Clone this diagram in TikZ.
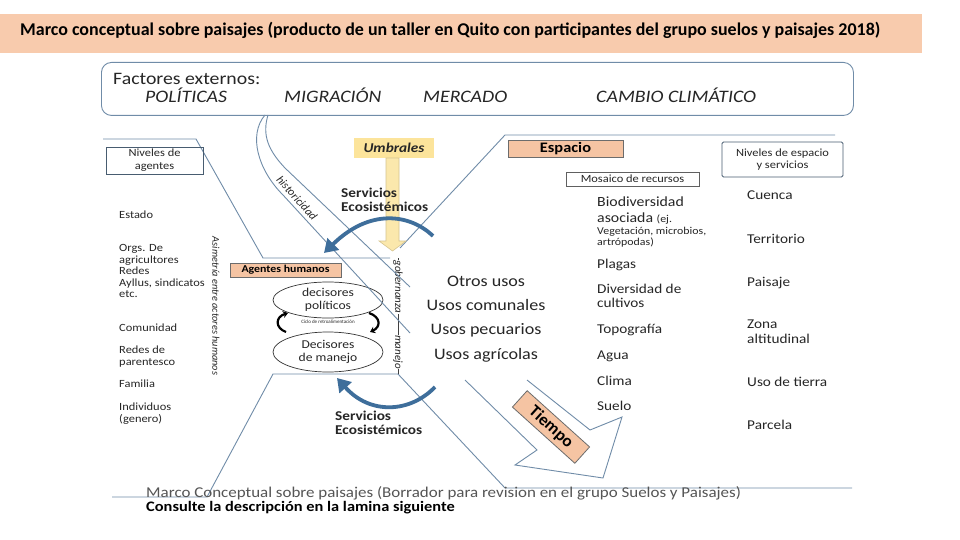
\documentclass[tikz,border=0pt]{standalone}
\usepackage{fontspec}
\setmainfont{Carlito}
\usepackage{graphicx}
\usetikzlibrary{arrows.meta,shapes.geometric}
\definecolor{peach}{RGB}{248,203,173}
\definecolor{peachbox}{RGB}{245,196,163}
\definecolor{linec}{RGB}{112,140,168}
\definecolor{boxc}{RGB}{72,92,112}
\definecolor{arrowblue}{RGB}{62,110,155}
\definecolor{ybox}{RGB}{252,228,155}
\definecolor{yarrow}{RGB}{251,232,172}
\definecolor{yborder}{RGB}{214,196,144}
\definecolor{txt}{RGB}{38,38,38}
\definecolor{gtxt}{RGB}{85,85,85}
\newcommand\fs[1]{\fontsize{#1}{#1}\selectfont}
\newcommand\sx[1]{\scalebox{1.13}[1]{#1}}
\begin{document}
\begin{tikzpicture}[x=1pt,y=-1pt,
  t/.style={inner sep=0pt, xscale=1.13, anchor=base west, text=txt},
  tc/.style={inner sep=0pt, xscale=1.13, anchor=base, text=txt},
  ln/.style={draw=linec, line width=0.9pt},
  bx/.style={draw=boxc, line width=0.9pt, inner sep=0pt, align=center, text=txt},
  pbx/.style={draw=gray!85!black, fill=peachbox, line width=0.8pt, inner sep=0pt, text=black},
  barrow/.style={draw=arrowblue, line width=3.8pt, -{Triangle[width=16pt,length=13pt]}},
  cyc/.style={line width=2.2pt, -{Stealth[length=5pt,width=7pt]}},
]
\useasboundingbox (0,0) rectangle (960,540);
\fill[white] (0,0) rectangle (960,540);

% title band
\node[fill=peach, minimum width=922pt, minimum height=39pt, inner sep=0pt, anchor=north west] (band) at (0,14) {};
\node[anchor=base west, inner sep=0pt, text=black] (title) at (20,36) {\resizebox{860pt}{!}{\fs{15.5}\bfseries Marco conceptual sobre paisajes (producto de un taller en Quito con participantes del grupo suelos y paisajes 2018)}};

% external factors box
\node[draw=linec, line width=0.9pt, rounded corners=10pt, minimum width=752pt, minimum height=53pt, inner sep=0pt, anchor=north west] (ext) at (101,62) {};
\node[t, font=\fs{17.5}] (fe) at (113,85) {Factores externos:};
\node[t, font=\fs{17.5}\itshape] (pol) at (145,103) {POLÍTICAS};
\node[t, font=\fs{17.5}\itshape] (mig) at (284,103) {MIGRACIÓN};
\node[t, font=\fs{17.5}\itshape] (mer) at (423,103) {MERCADO};
\node[t, font=\fs{17.5}\itshape] (cc) at (596,103) {CAMBIO CLIMÁTICO};

% zone outlines
\draw[ln] (103,139) -- (196,139) -- (263,258) -- (390,258);
\draw[ln] (398,374) -- (273,374) -- (207,497) -- (112,497);
\draw[ln] (400,248) -- (505,135) -- (835,135);
\draw[ln] (398,374) -- (505,488) -- (852,488);

% Tiempo hollow arrow
\draw[ln] (465,380) -- (537,450) -- (515,465) -- (603,478) -- (622,417) -- (590,430) -- (527,380);
\node[pbx, rotate=-42, minimum width=84pt, minimum height=22pt, font=\fs{17}\bfseries] (tiempo) at (551,427) {Tiempo};

% left column
\node[bx, minimum width=97pt, minimum height=27pt, font=\fontsize{11}{13}\selectfont] (nag) at (154.5,160.5) {\sx{Niveles de}\\\sx{agentes}};
\node[t, font=\fs{11}] (l1) at (119,218) {Estado};
\node[t, font=\fs{11}] (l2) at (119,251) {Orgs. De};
\node[t, font=\fs{11}] (l3) at (119,263) {agricultores};
\node[t, font=\fs{11}] (l4) at (119,274) {Redes};
\node[t, font=\fs{11}] (l5) at (119,286) {Ayllus, sindicatos};
\node[t, font=\fs{11}] (l6) at (119,297) {etc.};
\node[t, font=\fs{11}] (l7) at (119,331) {Comunidad};
\node[t, font=\fs{11}] (l8) at (119,353) {Redes de};
\node[t, font=\fs{11}] (l9) at (119,365) {parentesco};
\node[t, font=\fs{11}] (l10) at (119,387) {Familia};
\node[t, font=\fs{11}] (l11) at (119,410) {Individuos};
\node[t, font=\fs{11}] (l12) at (119,422) {(genero)};
\node[rotate=-90, inner sep=0pt, font=\fs{10.3}\itshape, text=txt] (asim) at (216,306) {Asimetría entre actores humanos};

% agents
\node[pbx, minimum width=111pt, minimum height=14pt, font=\fs{10.5}\bfseries] (agh) at (285.5,270) {\sx{Agentes humanos}};
\node[ellipse, draw=black!80, line width=0.7pt, minimum width=110pt, minimum height=36pt, inner sep=0pt, align=center, text=txt, font=\fontsize{12}{12.5}\selectfont] (dpol) at (328,300) {\sx{decisores}\\\sx{políticos}};
\node[ellipse, draw=black!80, line width=0.7pt, minimum width=110pt, minimum height=40pt, inner sep=0pt, align=center, text=txt, font=\fontsize{12}{12.5}\selectfont] (dman) at (328,352) {\sx{Decisores}\\\sx{de manejo}};
\node[inner sep=0pt, font=\fs{5}, text=txt] (ciclo) at (328,322) {Ciclo de retroalimentación};
\draw[cyc] (286,332) .. controls (275,328) and (275,317) .. (288,313);
\draw[cyc] (369,313) .. controls (381,317) and (381,327) .. (370,332);

% gobernanza / manejo
\draw[line width=0.6pt, black!75] (398,258) -- (398,374);
\node[rotate=-90, fill=white, inner sep=0.6pt, font=\fs{11}\itshape, text=txt] (gob) at (398,287) {gobernanza};
\node[rotate=-90, fill=white, inner sep=0.6pt, font=\fs{11}\itshape, text=txt] (man) at (398,352) {manejo};

% historicidad band
\draw[ln] (265,115) .. controls (248,135) and (258,170) .. (283,195) -- (410,333);
\draw[ln] (268,115) .. controls (262,135) and (268,150) .. (285,168) -- (410,287);
\node[rotate=-48, inner sep=0pt, font=\fs{11.5}\itshape, text=txt] (hist) at (297,198) {historicidad};

% Umbrales
\node[fill=ybox, minimum width=80pt, minimum height=20pt, inner sep=0pt, font=\fs{13.5}\bfseries\itshape, text=txt] (umb) at (394,148) {\sx{Umbrales}};
\draw[fill=yarrow, draw=yborder, line width=0.6pt] (386,158) -- (399,158) -- (399,241) -- (406,241) -- (392.5,251) -- (379,241) -- (386,241) -- cycle;

% ecosystem services
\node[t, font=\fs{13.5}\bfseries] (se1a) at (341,197.5) {Servicios};
\node[t, font=\fs{13.5}\bfseries] (se1b) at (341,211.5) {Ecosistémicos};
\draw[barrow] (433,236) .. controls (410,214) and (370,208) .. (324,253);
\node[t, font=\fs{13.5}\bfseries] (se2a) at (335,420) {Servicios};
\node[t, font=\fs{13.5}\bfseries] (se2b) at (335,434) {Ecosistémicos};
\draw[barrow] (435,387) .. controls (410,413) and (370,415) .. (337,378);

% uses
\node[tc, font=\fs{16}] (u1) at (486,286) {Otros usos};
\node[tc, font=\fs{16}] (u2) at (486,310) {Usos comunales};
\node[tc, font=\fs{16}] (u3) at (486,334.5) {Usos pecuarios};
\node[tc, font=\fs{16}] (u4) at (486,359) {Usos agrícolas};

% space
\node[pbx, minimum width=115pt, minimum height=17pt, font=\fs{14.5}\bfseries] (esp) at (565.5,148.5) {\sx{Espacio}};
\node[draw=gray!75!black, line width=0.7pt, minimum width=133pt, minimum height=14pt, inner sep=0pt, font=\fs{11}, text=txt] (mos) at (632.5,179) {\sx{Mosaico de recursos}};
\node[bx, rounded corners=1.5pt, minimum width=121pt, minimum height=35pt, font=\fontsize{11}{12.5}\selectfont] (nes) at (782.5,159.5) {\sx{Niveles de espacio}\\\sx{y servicios}};

\node[t, font=\fs{14}] (r1) at (597,206) {Biodiversidad};
\node[t, font=\fs{14}] (r2) at (597,222) {asociada {\fs{10.5}(ej.}};
\node[t, font=\fs{10.5}] (r3) at (597,234) {Vegetación, microbios,};
\node[t, font=\fs{10.5}] (r4) at (597,245) {artrópodas)};
\node[t, font=\fs{13.5}] (r5) at (597,268) {Plagas};
\node[t, font=\fs{13.5}] (r6) at (597,293) {Diversidad de};
\node[t, font=\fs{13.5}] (r7) at (597,307) {cultivos};
\node[t, font=\fs{13.5}] (r8) at (597,333) {Topografía};
\node[t, font=\fs{13.5}] (r9) at (597,359) {Agua};
\node[t, font=\fs{13.5}] (r10) at (597,385) {Clima};
\node[t, font=\fs{13.5}] (r11) at (597,410) {Suelo};

\node[t, font=\fs{13.5}] (s1) at (747,199) {Cuenca};
\node[t, font=\fs{13.5}] (s2) at (747,243) {Territorio};
\node[t, font=\fs{13.5}] (s3) at (747,286) {Paisaje};
\node[t, font=\fs{13.5}] (s4) at (747,328.5) {Zona};
\node[t, font=\fs{13.5}] (s5) at (747,343) {altitudinal};
\node[t, font=\fs{13.5}] (s6) at (747,386.5) {Uso de tierra};
\node[t, font=\fs{13.5}] (s7) at (747,429.5) {Parcela};

% bottom captions
\node[t, font=\fs{15}, text=gtxt] (b1) at (146,497.5) {Marco Conceptual sobre paisajes (Borrador para revision en el grupo Suelos y Paisajes)};
\node[t, font=\fs{14.5}\bfseries, text=black] (b2) at (146,511.5) {Consulte la descripción en la lamina siguiente};
\end{tikzpicture}
\end{document}
